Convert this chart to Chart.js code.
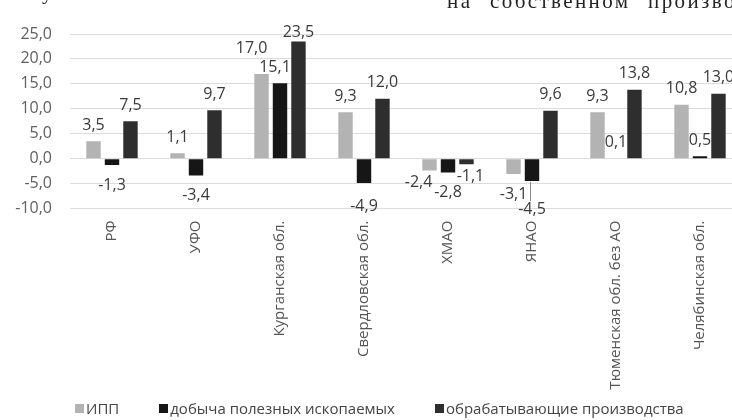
<!DOCTYPE html>
<html><head><meta charset="utf-8">
<script src="https://cdn.jsdelivr.net/npm/chart.js@4/dist/chart.umd.min.js"></script>
<style>
html,body{margin:0;padding:0;background:#fff;overflow:hidden;width:732px;height:420px}
#wrap{position:relative;width:742px;height:420px}
canvas{position:absolute;left:0;top:0}
.hdr{position:absolute;font-family:"Liberation Serif",serif;font-size:21px;color:#222;white-space:nowrap;line-height:21px}
#hdr1{left:42px;top:-18px}
#hdr2{left:447px;top:-9px;letter-spacing:2.4px;word-spacing:10px}
#legend{position:absolute;left:75px;top:400px;height:16px;display:flex;align-items:center;font:15px "Open Sans",sans-serif;color:#444;white-space:nowrap}
#legend .item{display:flex;align-items:center;margin-right:40px}
#legend .box{width:9px;height:9px;margin-right:2px}
</style></head><body>
<div id="wrap">
<canvas id="c" width="742" height="420"></canvas>
<div class="hdr" id="hdr1">у</div>
<div class="hdr" id="hdr2">на собственном произво</div>
<div id="legend"></div>
</div>
<script>
const categories = ['РФ','УФО','Курганская обл.','Свердловская обл.','ХМАО','ЯНАО','Тюменская обл. без АО','Челябинская обл.'];
const ippValues = [3.5, 1.1, 17.0, 9.3, -2.4, -3.1, 9.3, 10.8];
const miningValues = [-1.3, -3.4, 15.1, -4.9, -2.8, -4.5, 0.1, 0.5];
const manufacturingValues = [7.5, 9.7, 23.5, 12.0, -1.1, 9.6, 13.8, 13.0];
const seriesNames = ['ИПП', 'добыча полезных ископаемых', 'обрабатывающие производства'];
const seriesColors = ['#b3b3b3', '#161616', '#2e2e2e'];
const yMin = -10, yMax = 25, yStep = 5;

const FONT = '"Open Sans", sans-serif';
const fmt = v => v.toFixed(1).replace('.', ',');

// manual label nudges (dataset-index: [dx, dy]) as in the original layout
const labelNudge = {
  '0-2': [-10, -9], '1-2': [-5, 0], '2-2': [0, 7],
  '1-3': [0, 3], '0-4': [-11, -8], '2-4': [4, -8],
  '1-5': [0, 8]
};
const leaderLines = { '1-5': true };

const valueLabels = {
  id: 'valueLabels',
  beforeDatasetsDraw(chart) {
    const ctx = chart.ctx;
    ctx.save();
    ctx.font = '16px ' + FONT;
    ctx.textAlign = 'center';
    ctx.textBaseline = 'middle';
    chart.data.datasets.forEach((ds, di) => {
      const meta = chart.getDatasetMeta(di);
      meta.data.forEach((el, i) => {
        const v = ds.data[i];
        const key = di + '-' + i;
        const n = labelNudge[key] || [0, 0];
        const x = el.x + n[0];
        const y = (v >= 0 ? el.y - 16 : el.y + 20) + n[1];
        if (leaderLines[key]) {
          ctx.strokeStyle = '#8a8a8a';
          ctx.lineWidth = 1;
          ctx.beginPath();
          ctx.moveTo(el.x - 1.5, el.y + 1);
          ctx.lineTo(el.x - 1.5, y - 8);
          ctx.stroke();
        }
        ctx.fillStyle = '#3a3a3a';
        ctx.fillText(fmt(v), x, y);
      });
    });
    ctx.restore();
  }
};

const chart = new Chart(document.getElementById('c'), {
  type: 'bar',
  data: {
    labels: categories,
    datasets: [
      { label: seriesNames[0], data: ippValues, backgroundColor: seriesColors[0] },
      { label: seriesNames[1], data: miningValues, backgroundColor: seriesColors[1] },
      { label: seriesNames[2], data: manufacturingValues, backgroundColor: seriesColors[2] }
    ]
  },
  options: {
    responsive: false,
    animation: false,
    events: [],
    layout: { padding: { top: 34, bottom: 20, left: 0, right: 0 } },
    datasets: { bar: { categoryPercentage: 0.66, barPercentage: 0.78 } },
    plugins: {
      legend: { display: false },
      tooltip: { enabled: false }
    },
    scales: {
      y: {
        min: yMin, max: yMax,
        ticks: {
          stepSize: yStep, padding: 18, color: '#606060',
          font: { family: FONT, size: 16 },
          callback: v => fmt(v)
        },
        grid: { color: '#dcdcdc', drawTicks: false },
        border: { display: false },
        afterFit(s) { s.width = 70; }
      },
      x: {
        ticks: {
          minRotation: 90, maxRotation: 90, autoSkip: false, padding: 12,
          color: '#555', font: { family: FONT, size: 15 }
        },
        grid: { display: false, drawTicks: false },
        border: { display: false },
        afterFit(s) { s.height = 191.5; }
      }
    }
  },
  plugins: [valueLabels]
});

// legend built from the series definitions
const lg = document.getElementById('legend');
chart.data.datasets.forEach(ds => {
  const it = document.createElement('div'); it.className = 'item';
  const b = document.createElement('div'); b.className = 'box'; b.style.background = ds.backgroundColor;
  const t = document.createElement('span'); t.textContent = ds.label;
  it.appendChild(b); it.appendChild(t); lg.appendChild(it);
});
</script>
</body></html>
